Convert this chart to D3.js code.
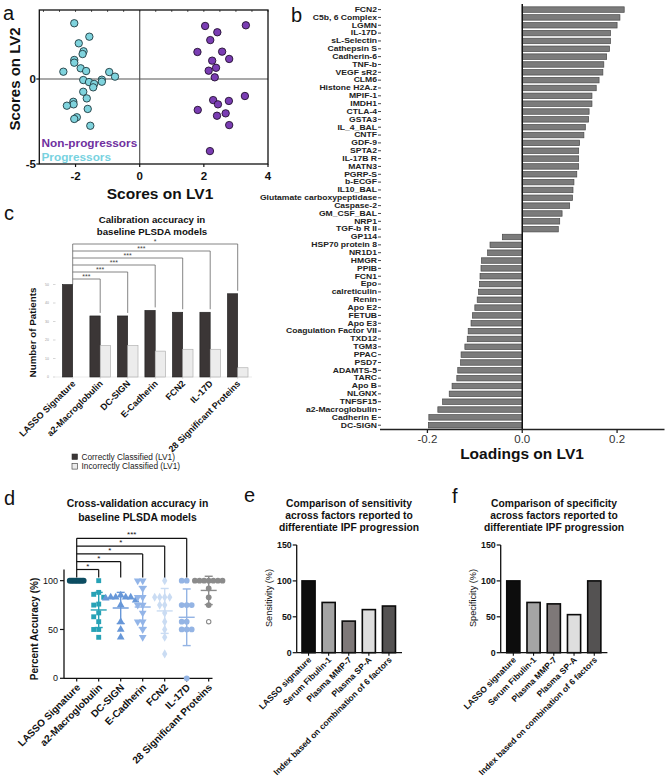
<!DOCTYPE html>
<html><head><meta charset="utf-8">
<script src="https://cdn.jsdelivr.net/npm/d3@7"></script>
<style>
html,body{margin:0;padding:0;background:#fff;}
svg{display:block;font-family:"Liberation Sans",Arial,Helvetica,sans-serif;}
</style></head><body>
<svg id="fig" width="669" height="779"></svg>
<script>
// ================= DATA =================
// Panel a : PLS-DA scores
const progX = [-2.04,-1.57,-1.90,-1.75,-1.78,-2.04,-2.04,-1.84,-2.38,-1.67,-0.95,-0.77,-1.18,-1.18,-1.76,-1.58,-1.42,-1.45,-1.76,-1.65,-2.07,-2.06,-2.27,-1.62,-1.96,-2.04,-1.54];
const progY = [3.28,2.49,2.10,1.63,1.47,1.12,0.96,0.63,0.43,0.47,0.41,0.14,-0.04,-0.16,-0.06,-0.18,-0.29,-0.49,-0.75,-1.14,-1.34,-1.49,-1.57,-1.76,-2.25,-2.35,-2.75];
const nonProgX = [2.04,3.31,2.42,2.20,1.80,2.57,2.79,2.26,2.38,2.15,2.34,3.28,2.29,2.78,2.44,1.81,2.68,2.41,2.79,2.19];
const nonProgY = [3.12,3.16,2.75,2.29,1.59,1.61,1.18,1.08,0.66,0.49,0.10,-1.00,-1.24,-1.29,-1.49,-1.82,-2.02,-2.16,-2.71,-4.24];
const scoreXTicks = [-2,0,2,4];
const scoreYTicks = [0,-5];

// Panel b : loadings on LV1
const loadingNames = ["FCN2","C5b, 6 Complex","LGMN","IL-17D","sL-Selectin","Cathepsin S","Cadherin-6","TNF-b","VEGF sR2","CLM6","Histone H2A.z","MPIF-1","IMDH1","CTLA-4","GSTA3","IL_4_BAL","CNTF","GDF-9","SPTA2","IL-17B R","MATN3","PGRP-S","b-ECGF","IL10_BAL","Glutamate carboxypeptidase","Caspase-2","GM_CSF_BAL","NRP1","TGF-b R II","GP114","HSP70 protein 8","NR1D1","HMGR","PPIB","FCN1","Epo","calreticulin","Renin","Apo E2","FETUB","Apo E3","Coagulation Factor VII","TXD12","TGM3","PPAC","PSD7","ADAMTS-5","TARC","Apo B","NLGNX","TNFSF15","a2-Macroglobulin","Cadherin E","DC-SIGN"];
const loadingValues = [0.215,0.206,0.200,0.186,0.186,0.184,0.178,0.172,0.170,0.162,0.156,0.147,0.147,0.141,0.140,0.133,0.130,0.121,0.119,0.119,0.119,0.115,0.109,0.107,0.106,0.100,0.084,0.079,0.076,-0.042,-0.068,-0.073,-0.086,-0.087,-0.089,-0.090,-0.092,-0.095,-0.100,-0.105,-0.108,-0.114,-0.116,-0.121,-0.129,-0.130,-0.136,-0.138,-0.148,-0.154,-0.168,-0.178,-0.197,-0.198];
const loadingTicks = [-0.2,0.0,0.2];

// Panel c : calibration accuracy
const modelGroups = ["LASSO Signature","a2-Macroglobulin","DC-SIGN","E-Cadherin","FCN2","IL-17D","28 Significant Proteins"];
const calibCorrect = [50,33,33,36,35,35,45];
const calibIncorrect = [0,17,17,14,15,15,5];
const calibYTicks = [0,10,20,30,40,50];
const calibSig = ["***","***","***","***","***","*"];
const calibLegend = ["Correctly Classified (LV1)","Incorrectly Classified (LV1)"];

// Panel d : cross-validation accuracy
const cvLasso = [100,100,100,100,100,100,100,100,100,100,100];
const cvA2 = [100,88,86,83,76,75,67,63,58,50,50,42];
const cvDCSIGN = [85,83,83,83,83,82,80,75,58,50,42];
const cvECad = [100,100,92,83,83,75,75,67,58,58,50,42];
const cvFCN2 = [100,83,83,83,83,75,75,67,58,50,42,25];
const cvIL17D = [100,100,75,75,75,58,58,50,50,50,0];
const cvSig28 = [100,100,100,100,100,100,100,92,83,75];
const cvSig28Hollow = [58];
const cvMean = [100,70,72,73,69,62.5,90];
const cvSD = [0,18,16,21,23,29,14.5];
const cvYTicks = [0,50,100];
const cvSig = ["*","*","*","*","***"];

// Panels e, f
const factorNames = ["LASSO signature","Serum Fibulin-1","Plasma MMP-7","Plasma SP-A","Index based on combination of 6 factors"];
const sensitivity = [100,70,44,60,65];
const specificity = [100,70,68,53,100];
const pctTicks = [0,50,100,150];

// ================= DRAW =================
const svg = d3.select("#fig");
function txt(g, x, y, s, size, opts={}) {
  const t = g.append("text").attr("x", x).attr("y", y).text(s)
    .attr("font-size", size).attr("font-weight", opts.bold ? "bold" : "normal")
    .attr("fill", opts.fill || "#111").attr("text-anchor", opts.anchor || "start");
  if (opts.rotate !== undefined) t.attr("transform", `rotate(${opts.rotate},${x},${y})`);
  if (opts.dy) t.attr("dy", opts.dy);
  return t;
}
function line(g, x1, y1, x2, y2, stroke, w) {
  return g.append("line").attr("x1", x1).attr("y1", y1).attr("x2", x2).attr("y2", y2)
    .attr("stroke", stroke).attr("stroke-width", w);
}

// panel letters
txt(svg, 3, 20, "a", 20);
txt(svg, 291, 22, "b", 20);
txt(svg, 4, 220, "c", 20);
txt(svg, 4, 505, "d", 20);
txt(svg, 244, 502, "e", 20);
txt(svg, 452, 503, "f", 20);

// ---------- Panel a ----------
{
  const g = svg.append("g");
  const x = d3.scaleLinear().domain([-3.13, 4]).range([39.3, 268]);
  const y = d3.scaleLinear().domain([-5, 4.06]).range([164, 10]);
  d3.range(-3, 4.01, 0.5).forEach(v => line(g, x(v), y(4.06), x(v), y(4.06) + 2, "#333", 0.8));
  line(g, x(0), y(4.06), x(0), y(-5), "#555", 1.2);
  line(g, x(-3.13), y(0), x(4), y(0), "#555", 1.2);
  g.append("rect").attr("x", x(-3.13)).attr("y", y(4.06)).attr("width", x(4) - x(-3.13))
    .attr("height", y(-5) - y(4.06)).attr("fill", "none").attr("stroke", "#111").attr("stroke-width", 1.3);
  scoreXTicks.forEach(v => { line(g, x(v), y(-5), x(v), y(-5) + 3, "#111", 1.2);
    txt(g, x(v), 180, v, 11.5, {bold: true, anchor: "middle"}); });
  scoreYTicks.forEach(v => { line(g, x(-3.13) - 3, y(v), x(-3.13), y(v), "#111", 1.2);
    txt(g, 36, y(v), v, 11.5, {bold: true, anchor: "end", dy: "0.36em"}); });
  txt(g, 20, 79, "Scores on LV2", 15, {bold: true, anchor: "middle", rotate: -90});
  txt(g, 160, 199, "Scores on LV1", 15.5, {bold: true, anchor: "middle"});
  g.selectAll("circle.p").data(progX.map((v, i) => [v, progY[i]])).join("circle")
    .attr("cx", d => x(d[0])).attr("cy", d => y(d[1])).attr("r", 3.7)
    .attr("fill", "#7fd3dd").attr("stroke", "#1f3a40").attr("stroke-width", 0.9);
  g.selectAll("circle.n").data(nonProgX.map((v, i) => [v, nonProgY[i]])).join("circle")
    .attr("cx", d => x(d[0])).attr("cy", d => y(d[1])).attr("r", 3.7)
    .attr("fill", "#7a3db3").attr("stroke", "#22102f").attr("stroke-width", 0.9);
  txt(g, 41.5, 146.5, "Non-progressors", 11.8, {bold: true, fill: "#7030a0"});
  txt(g, 41.5, 160.5, "Progressors", 11.8, {bold: true, fill: "#78d2df"});
}

// ---------- Panel b ----------
{
  const g = svg.append("g");
  const x = d3.scaleLinear().domain([-0.3, 0.3]).range([380, 664.5]);
  const y = d3.scaleBand().domain(loadingNames).range([5.65, 429.15]).paddingInner(0.3).paddingOuter(0.15);
  g.selectAll("rect").data(loadingValues).join("rect")
    .attr("x", d => x(Math.min(0, d))).attr("width", d => Math.abs(x(d) - x(0)))
    .attr("y", (d, i) => y(loadingNames[i])).attr("height", y.bandwidth())
    .attr("fill", "#7b7b7b").attr("stroke", "#4a4a4a").attr("stroke-width", 0.7);
  line(g, x(0), 4, x(0), 429.5, "#111", 1.5);
  line(g, x(-0.3), 429.5, x(0.3), 429.5, "#222", 1.3);
  loadingTicks.forEach(v => { line(g, x(v), 429.5, x(v), 433, "#222", 1.3);
    txt(g, x(v), 443, v.toFixed(1), 11.5, {anchor: "middle", fill: "#333"}); });
  loadingNames.forEach(n => { const cy = y(n) + y.bandwidth() / 2;
    line(g, 378, cy, 381, cy, "#333", 0.9);
    g.append("text").attr("transform", `translate(377,${cy}) scale(1.3,1)`)
      .attr("text-anchor", "end").attr("dy", "0.35em").attr("font-size", 6.6)
      .attr("font-weight", "bold").attr("fill", "#222").text(n); });
  txt(g, 522, 459, "Loadings on LV1", 15.5, {bold: true, anchor: "middle"});
}

// ---------- Panel c ----------
{
  const g = svg.append("g");
  const x = d3.scaleBand().domain(modelGroups).range([58.95, 251.45]).paddingInner(0.25).paddingOuter(0.125);
  const inner = d3.scaleBand().domain([0, 1]).range([0, x.bandwidth()]);
  const y = d3.scaleLinear().domain([0, 50]).range([377, 284.5]);
  txt(g, 152, 223, "Calibration accuracy in", 9.7, {bold: true, anchor: "middle"});
  txt(g, 152, 234.5, "baseline PLSDA models", 9.7, {bold: true, anchor: "middle"});
  calibYTicks.forEach(v => { line(g, 53, y(v), 55.5, y(v), "#bbb", 0.6);
    txt(g, 49, y(v), v, 3.5, {anchor: "end", dy: "0.35em", fill: "#999"}); });
  line(g, 56, y(0), 252, y(0), "#ddd", 0.6);
  const series = [calibCorrect, calibIncorrect];
  const fills = ["#3b3636", "#ececec"], strokes = ["#1e1e1e", "#a8a8a8"];
  series.forEach((arr, s) => {
    g.selectAll(`rect.s${s}`).data(arr).join("rect").attr("class", `s${s}`)
      .attr("x", (d, i) => x(modelGroups[i]) + inner(s)).attr("width", inner.bandwidth())
      .attr("y", d => y(d)).attr("height", d => y(0) - y(d))
      .attr("fill", fills[s]).attr("stroke", strokes[s]).attr("stroke-width", 0.6);
  });
  const cx = i => x(modelGroups[i]) + x.bandwidth() / 2;
  const topY = 279 - (calibSig.length - 1) * 7;
  line(g, cx(0), topY, cx(0), y(calibCorrect[0]), "#666", 0.8);
  calibSig.forEach((s, k) => {
    const i = k + 1, by = 279 - k * 7;
    line(g, cx(0), by, cx(i), by, "#666", 0.8);
    line(g, cx(i), by, cx(i), y(calibCorrect[i]) - 3, "#666", 0.8);
    txt(g, (cx(0) + cx(i)) / 2, by - 0.5, s, 7, {anchor: "middle", fill: "#444"});
  });
  modelGroups.forEach((n, i) => {
    line(g, cx(i), y(0), cx(i), y(0) + 2, "#ccc", 0.6);
    txt(g, cx(i) + 1, y(0) + 5, n, 9, {bold: true, anchor: "end", rotate: -45, dy: "0.35em"});
  });
  txt(g, 36, 332.5, "Number of Patients", 9.8, {bold: true, anchor: "middle", rotate: -90});
  calibLegend.forEach((s, i) => {
    g.append("rect").attr("x", 72).attr("y", 454 + i * 9.6).attr("width", 5.5).attr("height", 5.5)
      .attr("fill", fills[i]).attr("stroke", "#333").attr("stroke-width", 0.6);
    txt(g, 81.5, 459.6 + i * 9.6, s, 8.3, {fill: "#222"});
  });
}

// ---------- Panel d ----------
{
  const g = svg.append("g");
  const x = d3.scalePoint().domain(modelGroups).range([76.7, 208.7]);
  const y = d3.scaleLinear().domain([0, 110]).range([678.3, 570.9]);
  txt(g, 137.5, 507, "Cross-validation accuracy in", 10.4, {bold: true, anchor: "middle"});
  txt(g, 137.5, 520.5, "baseline PLSDA models", 10.4, {bold: true, anchor: "middle"});
  line(g, 64, 569.5, 64, 678.3, "#111", 1.3);
  line(g, 64, 678.3, 212.5, 678.3, "#111", 1.3);
  cvYTicks.forEach(v => { line(g, 60, y(v), 64, y(v), "#111", 1.2);
    txt(g, 58, y(v), v, 9, {anchor: "end", dy: "0.35em"}); });
  modelGroups.forEach(n => { line(g, x(n), 678.3, x(n), 681.5, "#111", 1.2);
    txt(g, x(n) + 2, 686, n, 10, {bold: true, anchor: "end", rotate: -45, dy: "0.3em"}); });
  txt(g, 38, 629, "Percent Accuracy (%)", 10, {bold: true, anchor: "middle", rotate: -90});
  const groups = [cvLasso, cvA2, cvDCSIGN, cvECad, cvFCN2, cvIL17D, cvSig28];
  const colors = ["#0d4d62", "#27a2b6", "#6797d8", "#93b5e8", "#cadcf3", "#94b4e4", "#8b8b8b"];
  const shapes = [d3.symbolCircle, d3.symbolSquare, d3.symbolTriangle, d3.symbolTriangle, d3.symbolDiamond, d3.symbolCircle, d3.symbolCircle];
  const sizes = [26, 24, 26, 26, 24, 26, 26];
  const spread = [1.4, 5, 5, 5, 5, 5, 4.6];
  function swarm(vals, d) {
    const placed = [];
    return vals.map(v => {
      const py = y(v);
      for (let k = 0; k < 40; k++) {
        const off = (k % 2 ? -1 : 1) * Math.ceil(k / 2) * d;
        if (!placed.some(p => Math.abs(p[0] - off) < d * 0.99 && Math.abs(p[1] - py) < 5)) {
          placed.push([off, py]); return [off, py];
        }
      }
      return [0, py];
    });
  }
  groups.forEach((vals, gi) => {
    const gx = x(modelGroups[gi]);
    const pts = swarm(vals, spread[gi]);
    g.selectAll(`path.g${gi}`).data(pts).join("path")
      .attr("d", d3.symbol().type(shapes[gi]).size(sizes[gi]))
      .attr("transform", d => `translate(${gx + d[0]},${d[1]})${gi === 3 ? " rotate(180)" : ""}`)
      .attr("fill", colors[gi]);
    if (gi === 6) {
      cvSig28Hollow.forEach(v => g.append("circle").attr("cx", gx).attr("cy", y(v)).attr("r", 2.2)
        .attr("fill", "#fff").attr("stroke", colors[gi]).attr("stroke-width", 1.1));
    }
    const m = cvMean[gi], s = cvSD[gi];
    line(g, gx - 8, y(m), gx + 8, y(m), colors[gi], 1.4);
    if (s > 0) {
      line(g, gx, y(m - s), gx, y(m + s), colors[gi], 1.4);
      line(g, gx - 4, y(m - s), gx + 4, y(m - s), colors[gi], 1.4);
      line(g, gx - 4, y(m + s), gx + 4, y(m + s), colors[gi], 1.4);
    }
  });
  const x0 = x(modelGroups[0]);
  const topY = 569.5 - (cvSig.length - 1) * 7.8;
  line(g, x0, topY, x0, 577.5, "#111", 1.2);
  cvSig.forEach((s, k) => {
    const xi = x(modelGroups[k + 1]), by = 569.5 - k * 7.8;
    line(g, x0, by, xi, by, "#111", 1.2);
    line(g, xi, by, xi, 577.5, "#111", 1.2);
    txt(g, (x0 + xi) / 2, by - 1, s, 8, {anchor: "middle"});
  });
}

// ---------- Panels e, f ----------
function barPanel(values, opts) {
  const g = svg.append("g");
  const x = d3.scaleBand().domain(factorNames).range(opts.range).paddingInner(0.35).paddingOuter(0.175);
  const y = d3.scaleLinear().domain([0, 150]).range([652.7, 545]);
  opts.title.forEach((t, i) => txt(g, opts.tc, 507.3 + i * 11.8, t, 10.3, {bold: true, anchor: "middle"}));
  const fills = ["#0d0d0d", "#a4a4a4", "#7e7878", "#dedede", "#545252"];
  g.selectAll("rect").data(values).join("rect")
    .attr("x", (d, i) => x(factorNames[i])).attr("width", x.bandwidth())
    .attr("y", d => y(d)).attr("height", d => y(0) - y(d))
    .attr("fill", (d, i) => fills[i]).attr("stroke", "#0a0a0a").attr("stroke-width", 1.6);
  line(g, opts.ax, y(150), opts.ax, y(0), "#111", 1.3);
  line(g, opts.ax, y(0), opts.range[1] + 3, y(0), "#111", 1.3);
  pctTicks.forEach(v => { line(g, opts.ax - 4, y(v), opts.ax, y(v), "#111", 1.2);
    txt(g, opts.ax - 5, y(v), v, 8.8, {bold: true, anchor: "end", dy: "0.35em"}); });
  factorNames.forEach(n => { const cx = x(n) + x.bandwidth() / 2;
    line(g, cx, y(0), cx, y(0) + 3, "#111", 1.1);
    txt(g, cx + 1.5, y(0) + 6, n, 8.5, {bold: true, anchor: "end", rotate: -45, dy: "0.3em"}); });
  txt(g, opts.ax - 25, 598, opts.ylab, 9.2, {anchor: "middle", rotate: -90});
}
barPanel(sensitivity, {range: [298.5, 399], ax: 296.7, tc: 349,
  title: ["Comparison of sensitivity", "across factors reported to", "differentiate IPF progression"], ylab: "Sensitivity (%)"});
barPanel(specificity, {range: [503.2, 604.4], ax: 500.7, tc: 554,
  title: ["Comparison of specificity", "across factors reported to", "differentiate IPF progression"], ylab: "Specificity (%)"});
</script>
</body></html>
